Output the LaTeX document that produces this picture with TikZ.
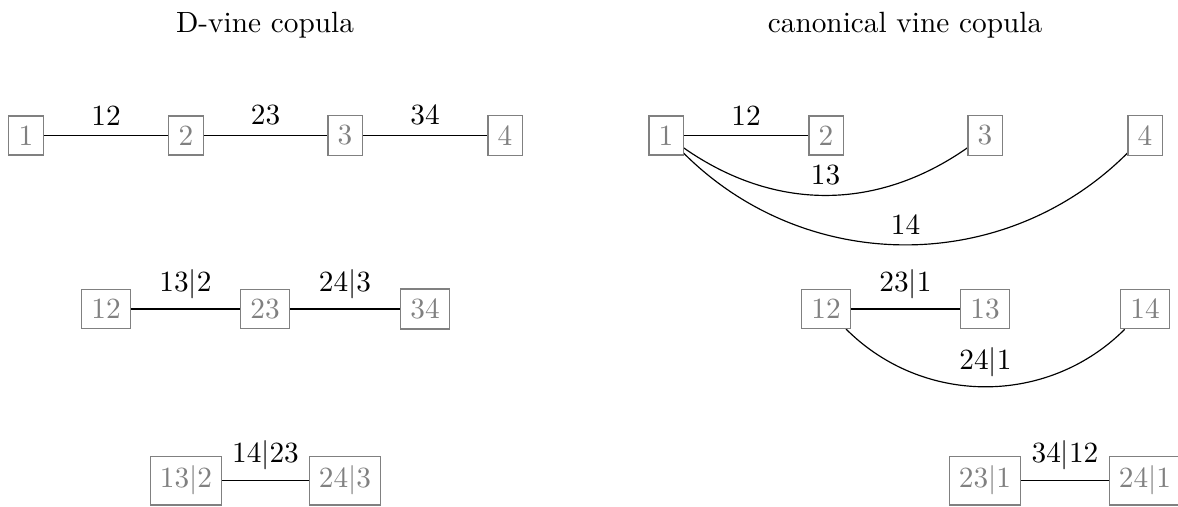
\documentclass[tikz,border=0pt]{standalone}
\usetikzlibrary{backgrounds}
\begin{document}
\begin{tikzpicture}[x=0.3413pt,y=-0.3413pt,
  vnode/.style={draw=gray,text=gray,rectangle,inner sep=0.3333em},
  edge/.style={draw=black,line width=0.4pt},
  elabel/.style={above,text=black,midway}]
\useasboundingbox (0,0) rectangle (1178,506);

% titles
\node[anchor=base] (tD) at (265,32) {D-vine copula};
\node[anchor=base] (tC) at (905,32) {canonical vine copula};

% ---------------- D-vine: vertices ----------------
\node[vnode] (d1) at (26,135.5) {1};
\node[vnode] (d2) at (186,135.5) {2};
\node[vnode] (d3) at (345,135.5) {3};
\node[vnode] (d4) at (505,135.5) {4};
\node[vnode] (d12) at (106,309) {12};
\node[vnode] (d23) at (265,309) {23};
\node[vnode] (d34) at (425,309) {34};
\node[vnode] (d13g2) at (186,480.5) {13$|$2};
\node[vnode] (d24g3) at (345,480.5) {24$|$3};

% ---------------- canonical vine: vertices ----------------
\node[vnode] (c1) at (666,135.5) {1};
\node[vnode] (c2) at (826,135.5) {2};
\node[vnode] (c3) at (985,135.5) {3};
\node[vnode] (c4) at (1145,135.5) {4};
\node[vnode] (c12) at (826,309) {12};
\node[vnode] (c13) at (985,309) {13};
\node[vnode] (c14) at (1145,309) {14};
\node[vnode] (c23g1) at (985,480.5) {23$|$1};
\node[vnode] (c24g1) at (1145,480.5) {24$|$1};

% edges sit below the vertex frames
\begin{pgfonlayer}{background}
% D-vine trees
\draw[edge] (d1) -- node[elabel] {12} (d2);
\draw[edge] (d2) -- node[elabel] {23} (d3);
\draw[edge] (d3) -- node[elabel] {34} (d4);
\draw[edge] (d12) -- node[elabel] {13$|$2} (d23);
\draw[edge] (d23) -- node[elabel] {24$|$3} (d34);
\draw[edge] (d13g2) -- node[elabel] {14$|$23} (d24g3);
% canonical vine trees
\draw[edge] (c1) -- node[elabel] {12} (c2);
\draw[edge] (c1) to[bend right=35] node[elabel] {13} (c3);
\draw[edge] (c1) to[bend right=45] node[elabel] {14} (c4);
\draw[edge] (c12) -- node[elabel] {23$|$1} (c13);
\draw[edge] (c12) to[bend right=45] node[elabel] {24$|$1} (c14);
\draw[edge] (c23g1) -- node[elabel] {34$|$12} (c24g1);
\end{pgfonlayer}
\end{tikzpicture}
\end{document}
